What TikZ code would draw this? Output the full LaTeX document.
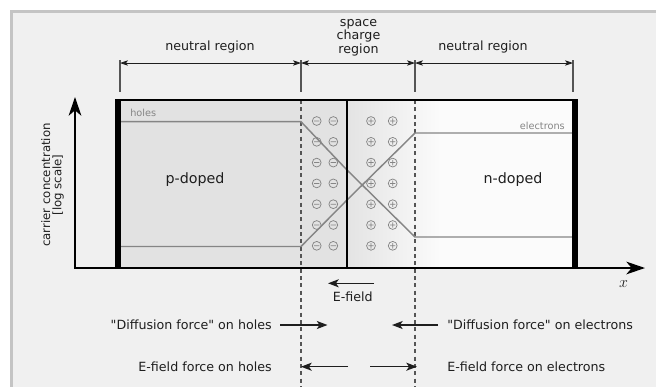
\documentclass[tikz,border=0pt]{standalone}
\usepackage{fontspec}
\setmainfont{DejaVu Sans}[Ligatures=TeXOff]
\usetikzlibrary{arrows.meta}
\definecolor{bgcol}{HTML}{F0F0F0}
\definecolor{framecol}{HTML}{C4C4C4}
\definecolor{pcol}{HTML}{E2E2E2}
\definecolor{ncol}{HTML}{FBFBFB}
\definecolor{curvecol}{HTML}{858585}
\definecolor{txt}{HTML}{1E1E1E}
\definecolor{dashcol}{HTML}{555555}
\begin{document}
\begin{tikzpicture}[x=0.75pt,y=-0.75pt,
  lbl/.style={font=\fontsize{9.5}{8.6}\selectfont, text=txt, inner sep=0pt},
  smalllbl/.style={font=\fontsize{7.3}{8}\selectfont, text=curvecol, inner sep=0pt},
  axisline/.style={line width=1.5pt, -{Stealth[length=14pt,width=9.5pt,inset=4pt]}},
  forcearrow/.style={line width=1.1pt, txt, -{Stealth[length=8pt,width=6pt,inset=2pt]}},
  dimarrow/.style={line width=0.6pt, txt, {Stealth[length=6pt,width=4pt,inset=1.5pt]}-{Stealth[length=6pt,width=4pt,inset=1.5pt]}},
  tickline/.style={line width=0.8pt, dashcol},
  dashline/.style={line width=0.9pt, dashcol, dash pattern=on 3pt off 2.5pt},
  carrier/.style={line width=1.1pt, curvecol},
  minussign/.pic={\draw[curvecol,line width=0.55pt] (0,0) circle[radius=4.4] (-2.7,0)--(2.7,0);},
  plussign/.pic={\draw[curvecol,line width=0.55pt] (0,0) circle[radius=4.4] (-2.7,0)--(2.7,0) (0,-2.7)--(0,2.7);}
]
\useasboundingbox (0,0) rectangle (656,387);
% background and frame
\fill[white] (0,0) rectangle (656,387);
\fill[framecol] (10,10) rectangle (656,387);
\fill[bgcol] (13,13) rectangle (656,387);

% region fills
\fill[pcol] (121,100) rectangle (301,268);
\fill[pcol] (301,100) rectangle (340,268);
\shade[left color=pcol, right color=ncol] (340,100) rectangle (440,268);
\fill[ncol] (440,100) rectangle (572,268);

% charges
\foreach \yy in {121,141.8,162.6,183.4,204.2,225,245.8} {
  \pic at (316.7,\yy) {minussign};
  \pic at (333.3,\yy) {minussign};
  \pic at (371,\yy) {plussign};
  \pic at (392.7,\yy) {plussign};
}

% coordinates
\coordinate (tl) at (115,100);
\coordinate (tr) at (578,100);
\coordinate (jt) at (347,100);
\coordinate (jb) at (347,268);
\coordinate (dlt) at (301,100);
\coordinate (dlb) at (301,387);
\coordinate (drt) at (415,100);
\coordinate (drb) at (415,387);

% dashed region borders
\draw[dashline] (dlt) -- (dlb);
\draw[dashline] (drt) -- (drb);

% carrier curves
\coordinate (h0) at (121,121.7);
\coordinate (h1) at (301,121.7);
\coordinate (h2) at (347,170);
\coordinate (h3) at (415,237);
\coordinate (h4) at (572,237);
\coordinate (e0) at (121,246.5);
\coordinate (e1) at (301,246.5);
\coordinate (e2) at (347,200);
\coordinate (e3) at (415,133);
\coordinate (e4) at (572,133);
\draw[carrier] (h0) -- (h1) -- (h2) -- (h3) -- (h4);
\draw[carrier] (e0) -- (e1) -- (e2) -- (e3) -- (e4);

% box
\draw[line width=1.4pt] (tl) -- (tr);
\draw[line width=1.3pt] (jt) -- (jb);
\fill[black] (115,99.3) rectangle (121,268);
\fill[black] (572,99.3) rectangle (578,268);

% axes
\coordinate (origin) at (75,268);
\coordinate (ytip) at (75,97);
\coordinate (xstart) at (74.2,268);
\coordinate (xtip) at (645,268);
\draw[axisline] (origin) -- (ytip);
\draw[axisline] (xstart) -- (xtip);

% dimension ticks and arrows
\coordinate (t1a) at (120,60); \coordinate (t1b) at (120,92);
\coordinate (t2a) at (301,60); \coordinate (t2b) at (301,92);
\coordinate (t3a) at (415,60); \coordinate (t3b) at (415,92);
\coordinate (t4a) at (573,60); \coordinate (t4b) at (573,92);
\draw[tickline] (t1a) -- (t1b);
\draw[tickline] (t2a) -- (t2b);
\draw[tickline] (t3a) -- (t3b);
\draw[tickline] (t4a) -- (t4b);
\coordinate (d1) at (120,63); \coordinate (d2) at (301,63);
\coordinate (d3) at (415,63); \coordinate (d4) at (573,63);
\draw[dimarrow] (d1) -- (d2);
\draw[dimarrow] (d2) -- (d3);
\draw[dimarrow] (d3) -- (d4);

% labels
\node[lbl] (nl) at (210,47) {neutral region};
\node[lbl, align=center] (sc) at (358.5,37.5) {space\\charge\\region};
\node[lbl] (nr) at (483,47) {neutral region};
\node[lbl, font=\fontsize{10.7}{12}\selectfont] (pd) at (195,180) {p-doped};
\node[lbl, font=\fontsize{10.7}{12}\selectfont] (nd) at (513,180) {n-doped};
\node[smalllbl, anchor=west] (hl) at (130,113) {holes};
\node[smalllbl, anchor=east] (el) at (565,126) {electrons};
\node[lbl, font=\fontsize{8.8}{8.5}\selectfont, align=center, rotate=90] (yl) at (52.5,185) {carrier concentration\\{[}log scale{]}};
\node[inner sep=0pt, text=txt] (xl) at (623.5,284.5) {\large$x$};

% E-field
\coordinate (ef0) at (374,283.3);
\coordinate (ef1) at (328,283.3);
\draw[forcearrow] (ef0) -- (ef1);
\node[lbl] (efl) at (352.7,296.5) {E-field};

% forces
\node[lbl, anchor=east] (dh) at (272,325) {"Diffusion force" on holes};
\coordinate (dha) at (280,325); \coordinate (dhb) at (327.5,325);
\draw[forcearrow] (dha) -- (dhb);
\node[lbl, anchor=west] (de) at (447,325) {"Diffusion force" on electrons};
\coordinate (dea) at (438,325); \coordinate (deb) at (392,325);
\draw[forcearrow] (dea) -- (deb);
\node[lbl, anchor=east] (fh) at (272,366.7) {E-field force on holes};
\coordinate (fha) at (348,366.7); \coordinate (fhb) at (301,366.7);
\draw[forcearrow] (fha) -- (fhb);
\node[lbl, anchor=west] (fe) at (447,366.7) {E-field force on electrons};
\coordinate (fea) at (370,366.7); \coordinate (feb) at (417,366.7);
\draw[forcearrow] (fea) -- (feb);
\end{tikzpicture}
\end{document}
